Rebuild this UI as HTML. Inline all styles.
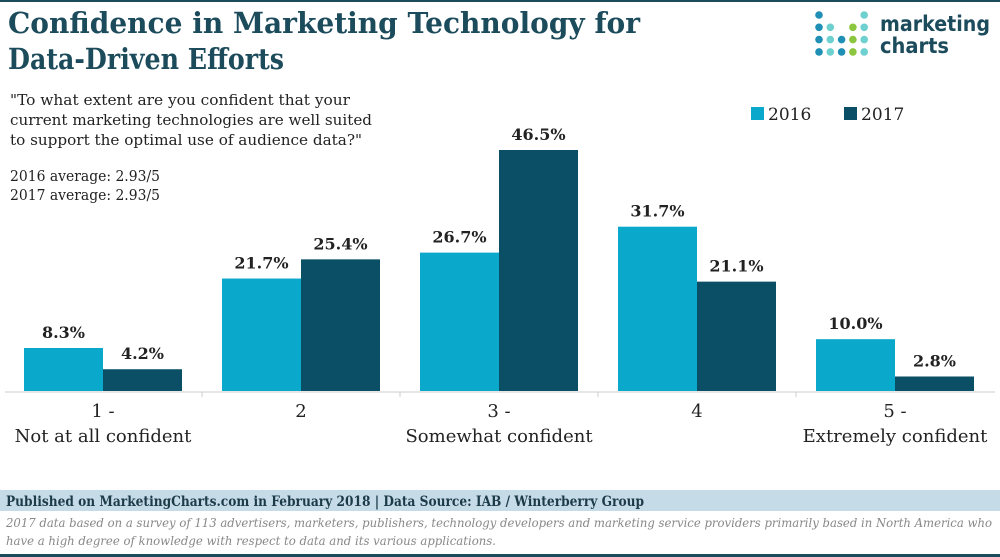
<!DOCTYPE html>
<html><head><meta charset="utf-8"><style>
body{margin:0;background:#fff;}
svg{display:block;font-family:"DejaVu Serif","Liberation Serif",serif;}
</style></head><body>
<svg id="c" width="1000" height="557" viewBox="0 0 1000 557">
<rect x="0" y="0" width="1000" height="2" fill="#1c4b5c"/>
<text x="8" y="33" font-size="29" font-weight="bold" fill="#1c4b5c" textLength="632" lengthAdjust="spacingAndGlyphs">Confidence in Marketing Technology for</text>
<text x="8" y="69" font-size="29" font-weight="bold" fill="#1c4b5c" textLength="276" lengthAdjust="spacingAndGlyphs">Data-Driven Efforts</text>
<g id="logo"></g>
<text x="880" y="31" font-family="DejaVu Sans,sans-serif" font-size="21" font-weight="bold" fill="#1c4b5c" textLength="110" lengthAdjust="spacingAndGlyphs">marketing</text>
<text x="880" y="53" font-family="DejaVu Sans,sans-serif" font-size="21" font-weight="bold" fill="#1c4b5c" textLength="69" lengthAdjust="spacingAndGlyphs">charts</text>
<g font-size="15" fill="#222">
<text x="10" y="105" textLength="340" lengthAdjust="spacingAndGlyphs">"To what extent are you confident that your</text>
<text x="10" y="125" textLength="362" lengthAdjust="spacingAndGlyphs">current marketing technologies are well suited</text>
<text x="10" y="145" textLength="352" lengthAdjust="spacingAndGlyphs">to support the optimal use of audience data?"</text>
<text x="10" y="181" textLength="150" lengthAdjust="spacingAndGlyphs">2016 average: 2.93/5</text>
<text x="10" y="200" textLength="150" lengthAdjust="spacingAndGlyphs">2017 average: 2.93/5</text>
</g>
<rect x="751" y="107" width="13" height="13" fill="#0aa9cc"/>
<text x="768" y="120" font-size="17" fill="#222">2016</text>
<rect x="844" y="107" width="13" height="13" fill="#0a4f66"/>
<text x="861" y="120" font-size="17" fill="#222">2017</text>
<g id="bars"></g>
<line x1="5" y1="392" x2="995" y2="392" stroke="#ccc" stroke-width="1"/>
<g id="xlabels" font-size="18" fill="#222" text-anchor="middle"></g>
<rect x="0" y="490" width="1000" height="21" fill="#c6dbe8"/>
<text x="6" y="506" font-size="14" font-weight="bold" fill="#1c3a48" textLength="638" lengthAdjust="spacingAndGlyphs">Published on MarketingCharts.com in February 2018 | Data Source: IAB / Winterberry Group</text>
<text x="6" y="527" font-size="12" font-style="italic" fill="#888" textLength="986" lengthAdjust="spacingAndGlyphs">2017 data based on a survey of 113 advertisers, marketers, publishers, technology developers and marketing service providers primarily based in North America who</text>
<text x="6" y="545" font-size="12" font-style="italic" fill="#888" textLength="490" lengthAdjust="spacingAndGlyphs">have a high degree of knowledge with respect to data and its various applications.</text>
<rect x="0" y="554" width="1000" height="3" fill="#1c4b5c"/>
</svg>
<script>
const categories=["1","2","3","4","5"];
const catLine1=["1 -","2","3 -","4","5 -"];
const catLine2=["Not at all confident","","Somewhat confident","","Extremely confident"];
const values2016=[8.3,21.7,26.7,31.7,10.0];
const values2017=[4.2,25.4,46.5,21.1,2.8];
const NS="http://www.w3.org/2000/svg";
const base=391, pxPer=241/46.5;
const y=v=>base-v*pxPer;
const groupX=i=>24+i*198;
const bw=79;
const bars=document.getElementById('bars');
function mk(tag,attrs,parent){const e=document.createElementNS(NS,tag);for(const k in attrs)e.setAttribute(k,attrs[k]);parent.appendChild(e);return e;}
categories.forEach((c,i)=>{
  [[values2016,'#0aa9cc',0,'2016'],[values2017,'#0a4f66',1,'2017']].forEach(([arr,col,k,yr])=>{
    const v=arr[i],x=groupX(i)+k*bw;
    const r=mk('rect',{x:x,y:y(v),width:bw,height:base-y(v),fill:col},bars);
    
    
    const t=mk('text',{x:x+bw/2,y:y(v)-10,'text-anchor':'middle','font-size':'16','font-weight':'bold',fill:'#222'},bars);
    t.textContent=v.toFixed(1)+'%';
    
    
  });
  const xl=document.getElementById('xlabels');
  const cx=groupX(i)+bw;
  const a=mk('text',{x:cx,y:417},xl);a.textContent=catLine1[i];
  
  
  if(catLine2[i]){const b=mk('text',{x:cx,y:442},xl);b.textContent=catLine2[i];
  
  }
  if(i>0){const tk=mk('line',{x1:groupX(i)-20,y1:392,x2:groupX(i)-20,y2:397,stroke:'#ccc'},xl);
  
  }
});
const logo=document.getElementById('logo');
const cols=[[0,1,2,3],[1,2,3],[2,3],[1,2,3],[0,1,2,3]];
const colColors=['#1f8fb5','#6fd0d0','#1f8fb5','#8cc63f','#6fd0d0'];
cols.forEach((rows,ci)=>rows.forEach(r=>{
  const d=mk('circle',{cx:819+ci*11.3,cy:15+r*12.3,r:3.8,fill:colColors[ci]},logo);
  
  
}));
</script>
</body></html>
